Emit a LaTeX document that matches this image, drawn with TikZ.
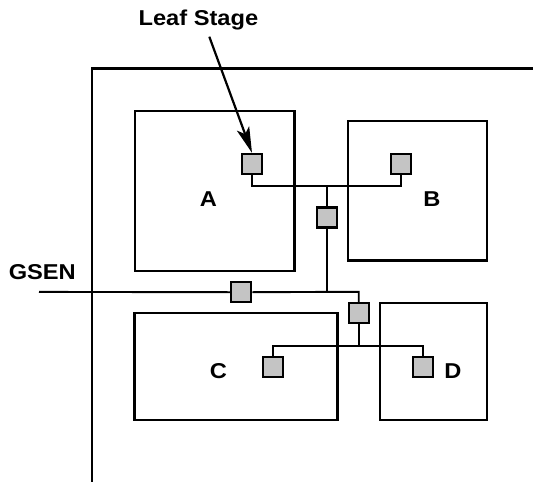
\documentclass[tikz,border=0pt]{standalone}
\usepackage{fontspec}
\newfontfamily\lblfont[FakeStretch=1.1]{Liberation Sans}
\usetikzlibrary{arrows.meta}
\definecolor{leafgray}{RGB}{196,196,196}
\tikzset{
 frame/.style={line width=2.2pt},
 block/.style={line width=2.2pt},
 wire/.style={line width=1.9pt},
 pointer/.style={line width=2.2pt,-{Stealth[length=26pt,width=13pt,inset=6pt]}},
 leaf/.style={draw,fill=leafgray,line width=2.3pt,minimum size=20pt,inner sep=0},
 lbl/.style={anchor=base,inner sep=0,font=\lblfont\bfseries\fontsize{21.5}{24}\selectfont}
}
\begin{document}
\begin{tikzpicture}[x=1pt,y=-1pt]
\path[use as bounding box] (0,0) rectangle (533,482);
\draw[frame] (533,68.5) -- (92.3,68.5) -- (92.3,482);
\draw[block] (135,111) rectangle (294.5,270.7);
\draw[block] (348,121) rectangle (487,260.5);
\draw[block] (134.5,313.3) rectangle (337.5,420);
\draw[block] (380,302.7) rectangle (486.7,420);
\node[lbl] (lblA) at (208.3,206.7) {A};
\node[lbl] (lblB) at (432,206.7) {B};
\node[lbl] (lblC) at (218.5,378.3) {C};
\node[lbl] (lblD) at (453,378.3) {D};
\node[lbl] (lblgsen) at (42.3,279.3) {GSEN};
\node[lbl] (lblleaf) at (198.4,25) {Leaf Stage};
\node[leaf] (leafA) at (252,164) {};
\node[leaf] (leafB) at (401.3,164.3) {};
\node[leaf] (leafC) at (273.3,366.8) {};
\node[leaf] (leafD) at (422.7,366.8) {};
\node[leaf] (bufAB) at (326.7,217.5) {};
\node[leaf] (bufgsen) at (241.2,292.2) {};
\node[leaf] (bufCD) at (358.7,313.3) {};
\coordinate (tapAB) at (326.7,185.7);
\coordinate (tapmain) at (326.7,291.9);
\coordinate (tapCD) at (358.7,345.7);
\coordinate (gsenin) at (39,291.9);
\coordinate (leafstart) at (209.3,36.7);
\draw[wire] (leafA.south) |- (tapAB) -| (leafB.south);
\draw[wire] (tapAB) -- (bufAB.north);
\draw[wire] (bufAB.south) -- (tapmain);
\draw[wire] (gsenin) -- (bufgsen.west);
\draw[wire] (bufgsen.east) -- (tapmain) -| (bufCD.north);
\draw[wire] (bufCD.south) -- (tapCD);
\draw[wire] (leafC.north) |- (tapCD) -| (leafD.north);
\draw[pointer] (leafstart) -- (leafA.north);
\end{tikzpicture}
\end{document}
